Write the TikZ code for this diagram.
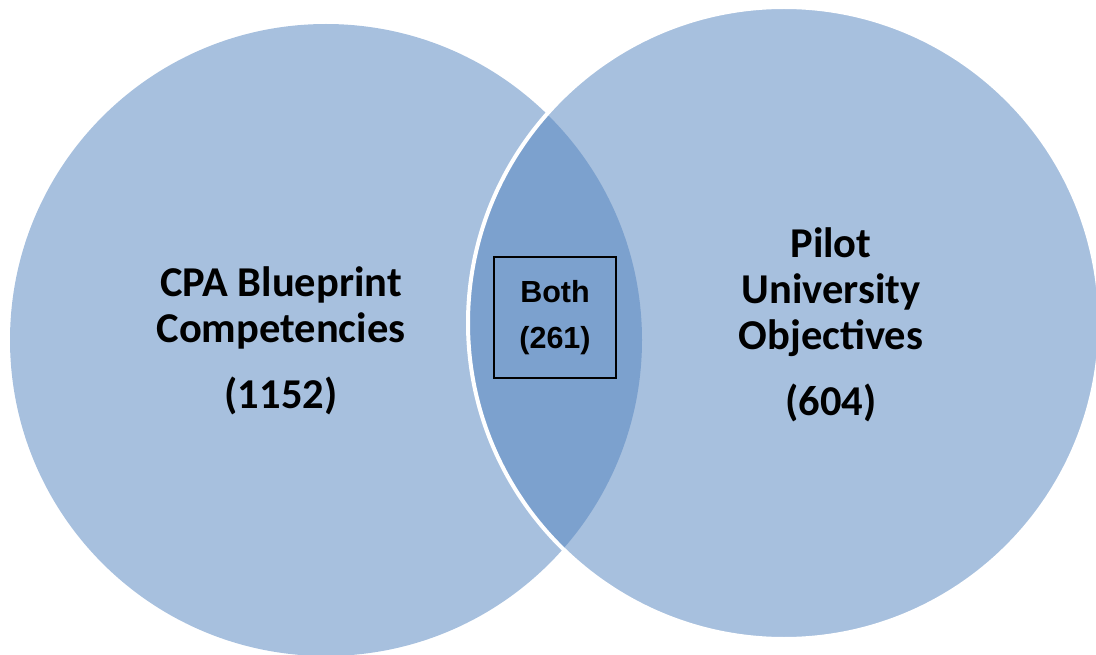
\documentclass[tikz,border=0pt]{standalone}
\usepackage{fontspec}
\newfontfamily\calfont{Carlito}
\newfontfamily\arfont{Liberation Sans}
\usetikzlibrary{positioning}
\definecolor{setblue}{RGB}{167,192,222}
\definecolor{bothblue}{RGB}{124,161,206}
\tikzset{setlabel/.style={font=\calfont\bfseries\fontsize{42.5}{46}\selectfont,align=center},
  bothbox/.style={draw=black,line width=1.6pt,minimum width=122pt,minimum height=121pt,
    align=center,font=\arfont\bfseries\fontsize{30.5}{46}\selectfont}}

\begin{document}
\begin{tikzpicture}[x=1pt,y=-1pt]
\useasboundingbox (0,0) rectangle (1096,655);
\clip (0,0) rectangle (1096,655);
% --- the two sets
\coordinate (cpa) at (326,340);
\coordinate (pilot) at (784,323);
\fill[setblue] (cpa) circle (316pt);
\fill[setblue] (pilot) circle (316pt);
\begin{scope}
\clip (cpa) circle (316pt);
\fill[bothblue] (pilot) circle (316pt);
\end{scope}
\draw[white,line width=4pt] (pilot) circle (316pt);
% --- labels
\node[setlabel] (cpalabel) at (281,341) {CPA Blueprint\\Competencies\\[20pt](1152)};
\node[setlabel] (pilotlabel) at (831,325) {Pilot\\University\\Objectives\\[20pt](604)};
\node[bothbox] (both) at (555,317.5) {Both\\(261)};
\end{tikzpicture}
\end{document}
